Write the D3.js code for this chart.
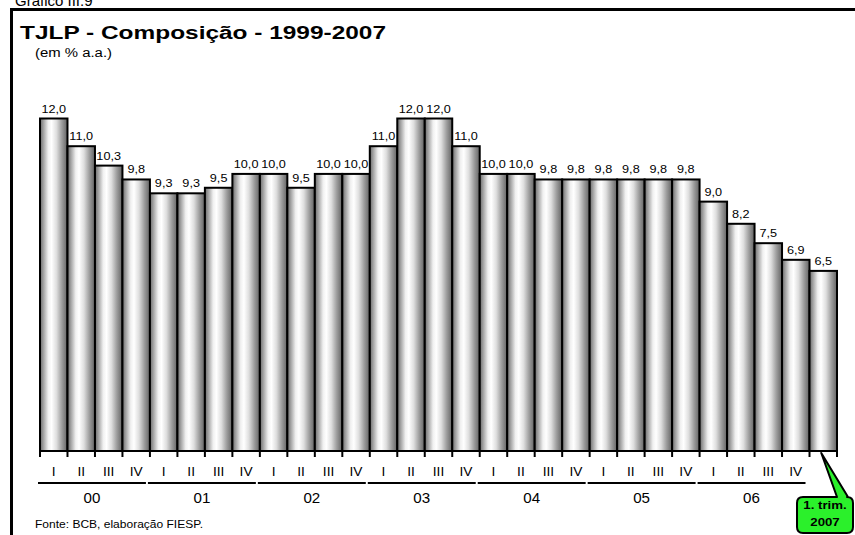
<!DOCTYPE html>
<html>
<head>
<meta charset="utf-8">
<script src="https://cdn.jsdelivr.net/npm/d3@7"></script>
<style>
  body { margin: 0; background: #fff; }
  text { font-family: Arial, "Liberation Sans", sans-serif; fill: #000; }
</style>
</head>
<body>
<div id="chart"></div>
<script>
// data
var years = ["00", "01", "02", "03", "04", "05", "06"];
var quarters = ["I", "II", "III", "IV"];
var values = [12.0, 11.0, 10.3, 9.8,
              9.3, 9.3, 9.5, 10.0,
              10.0, 9.5, 10.0, 10.0,
              11.0, 12.0, 12.0, 11.0,
              10.0, 10.0, 9.8, 9.8,
              9.8, 9.8, 9.8, 9.8,
              9.0, 8.2, 7.5, 6.9,
              6.5];
var periods = values.map(function (d, i) { return "p" + i; });

var width = 855, height = 535;
var svg = d3.select("#chart").append("svg")
  .attr("width", width)
  .attr("height", height);

// text in the original is a bit wider than it is tall
function stretch(sel, k) {
  sel.each(function () {
    var w = this.getComputedTextLength();
    d3.select(this)
      .attr("textLength", w * k)
      .attr("lengthAdjust", "spacingAndGlyphs");
  });
}

// gradient for the cylinder-like bars
var grad = svg.append("defs").append("linearGradient")
  .attr("id", "barGrad")
  .attr("x1", "0%").attr("x2", "100%").attr("y1", "0%").attr("y2", "0%");
[[0, "#6a6a6a"], [0.12, "#a0a0a0"], [0.3, "#f0f0f0"], [0.42, "#ffffff"],
 [0.6, "#dedede"], [0.8, "#9c9c9c"], [1, "#626262"]].forEach(function (s) {
  grad.append("stop").attr("offset", s[0]).attr("stop-color", s[1]);
});

// header text (cut at top, as in the original)
svg.append("text")
  .attr("x", 15).attr("y", 6)
  .style("font-size", "15px")
  .text("Gráfico III.9");

// frame
svg.append("path")
  .attr("d", "M11.5,535 L11.5,9.5 L855,9.5")
  .attr("fill", "none")
  .attr("stroke", "#000")
  .attr("stroke-width", 3);

svg.append("text")
  .attr("x", 20).attr("y", 39)
  .style("font-size", "18px")
  .style("font-weight", "bold")
  .attr("textLength", 366)
  .attr("lengthAdjust", "spacingAndGlyphs")
  .text("TJLP - Composição - 1999-2007");

svg.append("text")
  .attr("x", 35).attr("y", 57)
  .style("font-size", "12px")
  .attr("textLength", 77)
  .attr("lengthAdjust", "spacingAndGlyphs")
  .text("(em % a.a.)");

// scales
var x = d3.scaleBand()
  .domain(periods)
  .range([40, 837])
  .padding(0);

var y = d3.scaleLinear()
  .domain([0, 12])
  .range([451, 118.5]);

// bars
svg.selectAll("rect.bar")
  .data(values)
  .enter()
  .append("rect")
  .attr("class", "bar")
  .attr("x", function (d, i) { return x(periods[i]); })
  .attr("y", function (d) { return y(d); })
  .attr("width", x.bandwidth())
  .attr("height", function (d) { return y(0) - y(d); })
  .attr("fill", "url(#barGrad)")
  .attr("stroke", "#000")
  .attr("stroke-width", 2);

// value labels
svg.selectAll("text.val")
  .data(values)
  .enter()
  .append("text")
  .attr("class", "val")
  .attr("x", function (d, i) { return x(periods[i]) + x.bandwidth() / 2; })
  .attr("y", function (d) { return y(d) - 6; })
  .attr("text-anchor", "middle")
  .style("font-size", "11px")
  .text(function (d) { return d.toFixed(1).replace(".", ","); })
  .call(stretch, 1.15);

// axis line and ticks at bar boundaries
svg.append("line")
  .attr("x1", x.range()[0]).attr("x2", x.range()[1])
  .attr("y1", y(0)).attr("y2", y(0))
  .attr("stroke", "#000").attr("stroke-width", 2);

var bounds = periods.map(function (p) { return x(p); }).concat([x.range()[1]]);
svg.selectAll("line.tick")
  .data(bounds)
  .enter()
  .append("line")
  .attr("class", "tick")
  .attr("x1", function (d) { return d; }).attr("x2", function (d) { return d; })
  .attr("y1", y(0)).attr("y2", y(0) + 6)
  .attr("stroke", "#000").attr("stroke-width", 2);

// quarter labels (not under the last bar)
svg.selectAll("text.q")
  .data(periods.slice(0, years.length * 4))
  .enter()
  .append("text")
  .attr("class", "q")
  .attr("x", function (d) { return x(d) + x.bandwidth() / 2; })
  .attr("y", 476)
  .attr("text-anchor", "middle")
  .style("font-size", "12.5px")
  .text(function (d, i) { return quarters[i % 4]; })
  .call(stretch, 1.1);

// year group lines and labels
years.forEach(function (yr, k) {
  var x0 = x(periods[k * 4]);
  var x1 = x(periods[k * 4 + 3]) + x.bandwidth();
  svg.append("line")
    .attr("x1", x0 - 2).attr("x2", x1 - 4)
    .attr("y1", 483).attr("y2", 483)
    .attr("stroke", "#000").attr("stroke-width", 2);
  svg.append("text")
    .attr("x", (x0 + x1) / 2 - 3)
    .attr("y", 503)
    .attr("text-anchor", "middle")
    .style("font-size", "14px")
    .text(yr)
    .call(stretch, 1.08);
});

// source
svg.append("text")
  .attr("x", 35).attr("y", 528)
  .style("font-size", "10.5px")
  .attr("textLength", 168)
  .attr("lengthAdjust", "spacingAndGlyphs")
  .text("Fonte: BCB, elaboração FIESP.");

// callout for the last bar
var last = periods[periods.length - 1];
var tipX = x(last) + x.bandwidth() / 2 - 2;
var cx0 = 797, cx1 = 853, cy0 = 497, cy1 = 533, r = 6;
var callout = "M" + (cx0 + r) + "," + cy0 +
  " L837," + cy0 + " L" + tipX + "," + (y(0) + 2) + " L848," + cy0 +
  " L" + (cx1 - r) + "," + cy0 +
  " Q" + cx1 + "," + cy0 + " " + cx1 + "," + (cy0 + r) +
  " L" + cx1 + "," + (cy1 - r) +
  " Q" + cx1 + "," + cy1 + " " + (cx1 - r) + "," + cy1 +
  " L" + (cx0 + r) + "," + cy1 +
  " Q" + cx0 + "," + cy1 + " " + cx0 + "," + (cy1 - r) +
  " L" + cx0 + "," + (cy0 + r) +
  " Q" + cx0 + "," + cy0 + " " + (cx0 + r) + "," + cy0 + " Z";
svg.append("path")
  .attr("d", callout)
  .attr("fill", "#2bf02b")
  .attr("stroke", "#000")
  .attr("stroke-width", 2)
  .attr("stroke-linejoin", "round");

svg.append("text")
  .attr("x", (cx0 + cx1) / 2).attr("y", 509)
  .attr("text-anchor", "middle")
  .style("font-size", "11.5px").style("font-weight", "bold")
  .text("1. trim.")
  .call(stretch, 1.15);
svg.append("text")
  .attr("x", (cx0 + cx1) / 2).attr("y", 526)
  .attr("text-anchor", "middle")
  .style("font-size", "11.5px").style("font-weight", "bold")
  .text("2007")
  .call(stretch, 1.15);
</script>
</body>
</html>
